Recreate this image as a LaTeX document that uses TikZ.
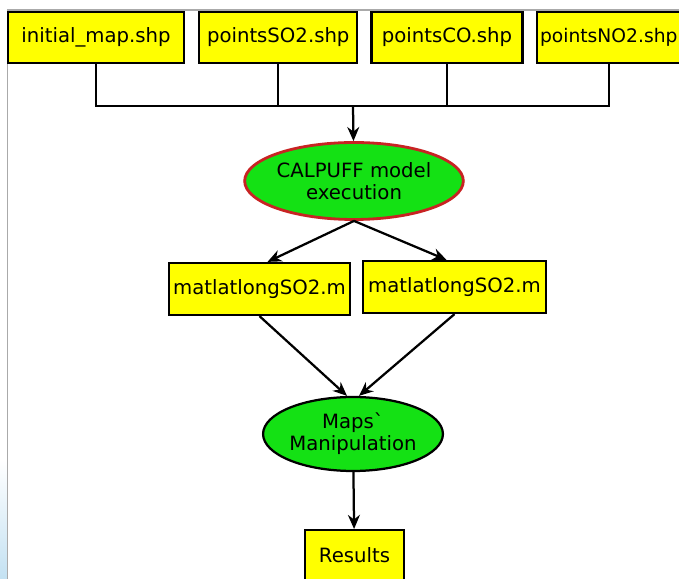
\documentclass[tikz,border=0pt]{standalone}
\usepackage{fontspec}
\setmainfont{DejaVu Sans}
\usetikzlibrary{positioning}
\usetikzlibrary{arrows.meta, shapes.geometric}
\definecolor{boxyellow}{RGB}{255,255,0}
\definecolor{procgreen}{RGB}{20,225,20}
\definecolor{procred}{RGB}{200,35,35}
\definecolor{framegray}{RGB}{170,170,170}
\definecolor{frameblue}{RGB}{195,225,242}
\tikzset{
	-{Stealth[length=10pt,width=8.5pt]},
	every path/.style={line width=1.6pt},
	every node/.style={align=center,font=\fontsize{14}{15.5}\selectfont},
	file/.style = {rectangle, draw, fill=boxyellow, minimum height=1.275cm, inner sep=2pt},
	proc/.style = {ellipse, draw, fill=procgreen, inner sep=0pt},
	bus/.style = {-}
}

\begin{document}
\begin{tikzpicture}
	\useasboundingbox (0,0) rectangle (16.975,-14.475);
	
	% Window frame
	\shade[top color=white, bottom color=frameblue] (0,-11.5) rectangle (0.17,-14.475);
	\draw[-, framegray, line width=0.8pt] (0.18,-14.475) -- (0.18,-0.25) -- (16.975,-0.25);
	
	% Input files
	\node (ini) [file, minimum width=4.4cm] at (2.4,-0.9375) {initial\_map.shp};
	\node (so2) [file, minimum width=3.95cm, right = 0.325cm of ini] {pointsSO2.shp};
	\node (co) [file, minimum width=3.775cm, right = 0.3cm of so2] {pointsCO.shp};
	\node (no2) [file, minimum width=3.6cm, inner xsep=1pt, font=\fontsize{13.3}{15}\selectfont, right = 0.3cm of co] {pointsNO2.shp};
	
	% Processing
	\node (calpuff) [proc, draw=procred, line width=2pt, minimum width=4.55cm, minimum height=1.925cm] at (8.85,-4.525) {CALPUFF model\\execution};
	\node (matl) [file, minimum width=4.525cm, minimum height=1.3cm] at (6.4875,-7.225) {matlatlongSO2.m};
	\node (matr) [file, minimum width=4.575cm, minimum height=1.3cm] at (11.3625,-7.175) {matlatlongSO2.m};
	\node (maps) [proc, minimum width=3.7cm, minimum height=1.85cm] at (8.825,-10.85) {Maps\textasciigrave\\Manipulation};
	\node (res) [file, anchor=north, minimum width=2.475cm, minimum height=0pt, inner ysep=0pt, text height=0.8cm, text depth=1cm] at (8.8625,-13.225) {Results};
	
	\coordinate (hub) at (8.825,-2.65);
	\draw[bus] (ini.south) -- (ini.south |- hub) -- (no2.south |- hub) -- (no2.south);
	\draw[bus] (so2.south) -- (so2.south |- hub);
	\draw[bus] (co.south) -- (co.south |- hub);
	\draw (hub) -- (calpuff);
	
	\draw (calpuff.south) -- ([xshift=0.2cm]matl.north);
	\draw (calpuff.south) -- ([xshift=-0.2cm]matr.north);
	\draw (matl.south) -- ([xshift=-0.15cm]maps.north);
	\draw (matr.south) -- ([xshift=0.15cm]maps.north);
	\draw (maps) -- (res);
	
\end{tikzpicture}
\end{document}
